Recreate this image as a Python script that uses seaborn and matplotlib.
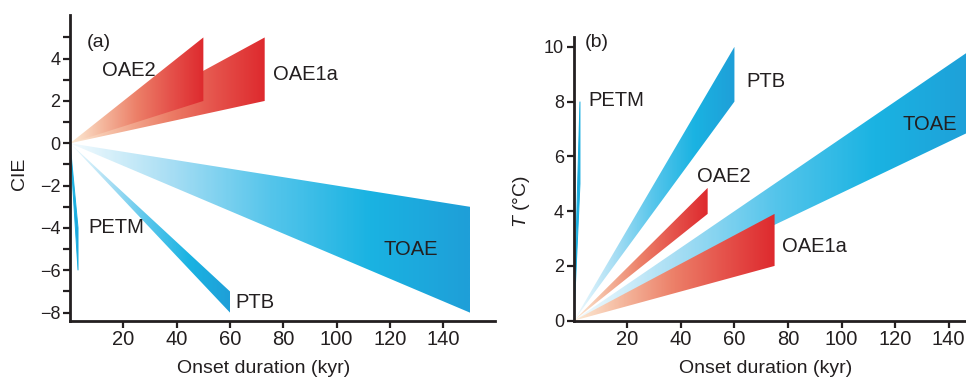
import numpy as np
import matplotlib
matplotlib.use('Agg')
import matplotlib.pyplot as plt
from matplotlib.patches import Polygon
from matplotlib.colors import LinearSegmentedColormap
import seaborn as sns

# Panel (a): carbon isotope excursion vs onset duration
a_events = ['OAE1a', 'OAE2', 'TOAE', 'PTB', 'PETM']
a_duration = [73, 50, 150, 60, 3]
a_low = [2, 2, -8, -8, -6]
a_high = [5, 5, -3, -7, -4]
a_kind = ['red', 'red', 'blue', 'blue', 'blue']

# Panel (b): warming vs onset duration
b_events = ['TOAE', 'OAE1a', 'OAE2', 'PTB', 'PETM']
b_duration = [150, 75, 50, 60, 2.3]
b_low = [7, 2, 3.9, 8, 5]
b_high = [10, 3.9, 4.85, 10, 8]
b_kind = ['blue', 'red', 'red', 'blue', 'blue']

sns.set_style('ticks')
plt.rcParams['font.family'] = ['Liberation Sans', 'DejaVu Sans']
plt.rcParams['mathtext.fontset'] = 'custom'
plt.rcParams['mathtext.it'] = 'Liberation Sans:italic'
plt.rcParams['mathtext.rm'] = 'Liberation Sans'

ink = '#231f20'
cmaps = {
    'blue': LinearSegmentedColormap.from_list(
        'b', ['#f4fbfe', '#a8def4', '#55c5eb', '#1ab3e2', '#1f9fd8']),
    'red': LinearSegmentedColormap.from_list(
        'r', ['#fdecd6', '#f4b59b', '#ec7f68', '#e5524b', '#de2a2e']),
}


def wedge(ax, xe, lo, hi, kind):
    # triangle from the origin, filled with a gradient along x
    thin = xe < 10
    poly = Polygon([(0, 0), (xe, lo), (xe, hi)], closed=True, facecolor='none',
                   edgecolor=cmaps[kind](0.8) if thin else 'none',
                   linewidth=0.7)
    ax.add_patch(poly)
    y0, y1 = min(0, lo), max(0, hi)
    # very short onsets (near-vertical slivers) stay saturated
    start = 0.55 if thin else 0.0
    xs = np.linspace(start, 1, 300)
    z = np.tile(xs, (200, 1))
    im = ax.imshow(z, extent=[0, xe, y0, y1], origin='lower', aspect='auto',
                   cmap=cmaps[kind], vmin=0, vmax=1, interpolation='bilinear')
    im.set_clip_path(poly)


def style(ax):
    sns.despine(ax=ax)
    for s in ['left', 'bottom']:
        ax.spines[s].set_linewidth(2)
        ax.spines[s].set_color(ink)
    ax.tick_params(which='both', direction='out', length=5, width=1.6,
                   color=ink, labelcolor=ink, labelsize=13, pad=2)
    ax.tick_params(axis='x', labelsize=14.5)


fig = plt.figure(figsize=(9.66, 3.78), dpi=100)
ax1 = fig.add_axes([0.0725, 0.1516, 0.44, 0.8087])
ax2 = fig.add_axes([0.594, 0.1516, 0.406, 0.7513])

for ev, xe, lo, hi, k in zip(a_events, a_duration, a_low, a_high, a_kind):
    wedge(ax1, xe, lo, hi, k)
for ev, xe, lo, hi, k in zip(b_events, b_duration, b_low, b_high, b_kind):
    wedge(ax2, xe, lo, hi, k)

# panel (a)
ax1.set_xlim(0, 159.4)
ax1.set_ylim(-8.38, 6.06)
ax1.set_xticks(np.arange(20, 141, 20))
ax1.set_yticks(np.arange(-8, 5, 2))
ax1.set_yticks(np.arange(-7, 6, 2), minor=True)
style(ax1)
ax1.set_ylabel('CIE', fontsize=14, color=ink)
ax1.yaxis.set_label_coords(-0.098, 0.48)
ax1.set_xlabel('Onset duration (kyr)', fontsize=14, color=ink)
ax1.xaxis.set_label_coords(0.456, -0.127)
ax1.text(6.4, 4.74, '(a)', fontsize=14, color=ink, va='center')
a_lab = {'OAE2': (11.9, 3.43), 'OAE1a': (76.2, 3.27), 'PETM': (6.9, -3.99),
         'TOAE': (117.5, -5.0), 'PTB': (61.9, -7.51)}
for ev, (x, y) in a_lab.items():
    ax1.text(x, y, ev, fontsize=14.5, color=ink, va='center', ha='left')

# panel (b)
ax2.set_xlim(0, 146.5)
ax2.set_ylim(0, 10.37)
ax2.set_xticks(np.arange(20, 141, 20))
ax2.set_yticks(np.arange(0, 11, 2))
style(ax2)
ax2.set_ylabel('$T$ (°C)', fontsize=14, color=ink)
ax2.yaxis.set_label_coords(-0.106, 0.418)
ax2.set_xlabel('Onset duration (kyr)', fontsize=14, color=ink)
ax2.xaxis.set_label_coords(0.49, -0.137)
ax2.text(4.2, 10.15, '(b)', fontsize=14, color=ink, va='center')
b_lab = {'PETM': (5.4, 8.03), 'PTB': (64.3, 8.75), 'OAE2': (46.2, 5.26),
         'TOAE': (122.6, 7.18), 'OAE1a': (77.6, 2.7)}
for ev, (x, y) in b_lab.items():
    ax2.text(x, y, ev, fontsize=14.5, color=ink, va='center', ha='left')

fig.savefig('out.png', dpi=100)
